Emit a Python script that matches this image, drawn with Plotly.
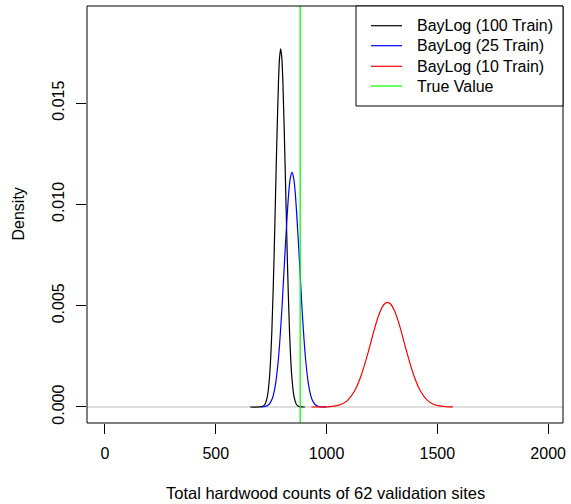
import plotly.graph_objects as go

# Posterior densities of the total hardwood count (62 validation sites)
x_100 = [655, 700, 713, 723, 733, 743, 753, 763, 773, 783, 788, 793, 798, 803, 813, 823, 833, 843, 853,
         863, 873, 886, 902]
y_100 = [0.0, 0.000004, 0.000034, 0.00015, 0.00052, 0.00153, 0.00369, 0.00732, 0.01195, 0.01603, 0.01724,
         0.01767, 0.01724, 0.01603, 0.01195, 0.00732, 0.00369, 0.00153, 0.00052, 0.00015, 0.000034,
         0.000004, 0.0]

x_25 = [707, 724, 739, 754, 769, 784, 799, 814, 829, 836.5, 844, 851.5, 859, 874, 889, 904, 919, 934,
        949, 964, 979, 1000]
y_25 = [0.000004, 0.000026, 0.00011, 0.000378, 0.00108, 0.00253, 0.00492, 0.00792, 0.01053, 0.01131,
        0.01158, 0.01131, 0.01053, 0.00792, 0.00492, 0.00253, 0.00108, 0.000378, 0.00011, 0.000026,
        0.000005, 0.0]

x_10 = [932, 945, 975, 1005, 1035, 1065, 1095, 1125, 1155, 1185, 1215, 1230, 1245, 1260, 1275, 1290,
        1305, 1320, 1335, 1365, 1395, 1425, 1455, 1485, 1515, 1545, 1570]
y_10 = [0.0000002, 0.0000005, 0.0000025, 0.0000105, 0.000039, 0.000122, 0.000329, 0.000763, 0.001519,
        0.002594, 0.003804, 0.004352, 0.004785, 0.005070, 0.005168, 0.005070, 0.004785, 0.004352,
        0.003804, 0.002594, 0.001519, 0.000763, 0.000329, 0.000122, 0.000039, 0.0000105, 0.000002]

true_value = 881

series_names = ["BayLog (100 Train)", "BayLog (25 Train)", "BayLog (10 Train)", "True Value"]
series_colors = ["#000000", "#0000FF", "#FF0000", "#00FF00"]

x_ticks = [0, 500, 1000, 1500, 2000]
x_ticktext = ["0", "500", "1000", "1500", "2000"]
y_ticks = [0.0, 0.005, 0.010, 0.015]
y_ticktext = ["0.000", "0.005", "0.010", "0.015"]

FONT = "Liberation Sans, Arial, Helvetica, sans-serif"
FS = 16
W, H = 571, 504
ML, MR, MT, MB = 87, 8, 6, 81
PW, PH = W - ML - MR, H - MT - MB


def px_x(p):
    return (p - ML) / PW


def px_y(p):
    return (H - MB - p) / PH


fig = go.Figure()
for xs, ys, name, col in zip([x_100, x_25, x_10], [y_100, y_25, y_10], series_names[:3], series_colors[:3]):
    fig.add_trace(go.Scatter(x=xs, y=ys, mode="lines", name=name,
                             line=dict(color=col, width=1.2, shape="spline", smoothing=0.8),
                             showlegend=False, hoverinfo="skip"))

shapes = [
    # zero line of the density plot
    dict(type="line", xref="paper", yref="y", x0=0, x1=1, y0=0, y1=0,
         line=dict(color="#BEBEBE", width=1), layer="below"),
    # true value
    dict(type="line", xref="x", yref="paper", x0=true_value, x1=true_value, y0=0, y1=1,
         line=dict(color=series_colors[3], width=1.3), layer="above"),
    # plot frame
    dict(type="rect", xref="paper", yref="paper", x0=0, x1=1, y0=0, y1=1,
         line=dict(color="black", width=1), layer="above"),
    # legend frame
    dict(type="rect", xref="paper", yref="paper", x0=px_x(356), x1=1, y0=px_y(106), y1=1,
         line=dict(color="black", width=1), fillcolor="white", layer="above"),
]

annotations = []
row_y = [25.7, 45.7, 66.3, 86.0]
for ry, name, col in zip(row_y, series_names, series_colors):
    shapes.append(dict(type="line", xref="paper", yref="paper", x0=px_x(371), x1=px_x(402),
                       y0=px_y(ry), y1=px_y(ry), line=dict(color=col, width=1.2), layer="above"))
    annotations.append(dict(text=name, xref="paper", yref="paper", x=px_x(415), y=px_y(ry),
                            xanchor="left", yanchor="middle", showarrow=False,
                            font=dict(family=FONT, size=FS, color="black")))

annotations.append(dict(text="Total hardwood counts of 62 validation sites", xref="paper", yref="paper",
                        x=px_x(325), y=px_y(493), xanchor="center", yanchor="middle", showarrow=False,
                        font=dict(family=FONT, size=16.5, color="black")))
annotations.append(dict(text="Density", xref="paper", yref="paper", x=px_x(18), y=px_y(214.5),
                        xanchor="center", yanchor="middle", textangle=-90, showarrow=False,
                        font=dict(family=FONT, size=FS, color="black")))

fig.update_layout(
    width=W, height=H,
    margin=dict(l=ML, r=MR, t=MT, b=MB, pad=0),
    paper_bgcolor="white", plot_bgcolor="white",
    font=dict(family=FONT, size=FS, color="black"),
    shapes=shapes, annotations=annotations,
    showlegend=False,
)
fig.update_xaxes(range=[-81, 2067], tickvals=x_ticks, ticktext=x_ticktext,
                 showgrid=False, zeroline=False, showline=False,
                 ticks="outside", ticklen=10, tickwidth=1, tickcolor="black",
                 ticklabelstandoff=6, tickfont=dict(family=FONT, size=FS, color="black"))
fig.update_yaxes(range=[-0.00079, 0.01979], tickvals=y_ticks, ticktext=y_ticktext,
                 showgrid=False, zeroline=False, showline=False,
                 ticks="outside", ticklen=10, tickwidth=1, tickcolor="black", tickangle=-90,
                 ticklabelstandoff=6, tickfont=dict(family=FONT, size=FS, color="black"))

fig.write_html("out.html")
